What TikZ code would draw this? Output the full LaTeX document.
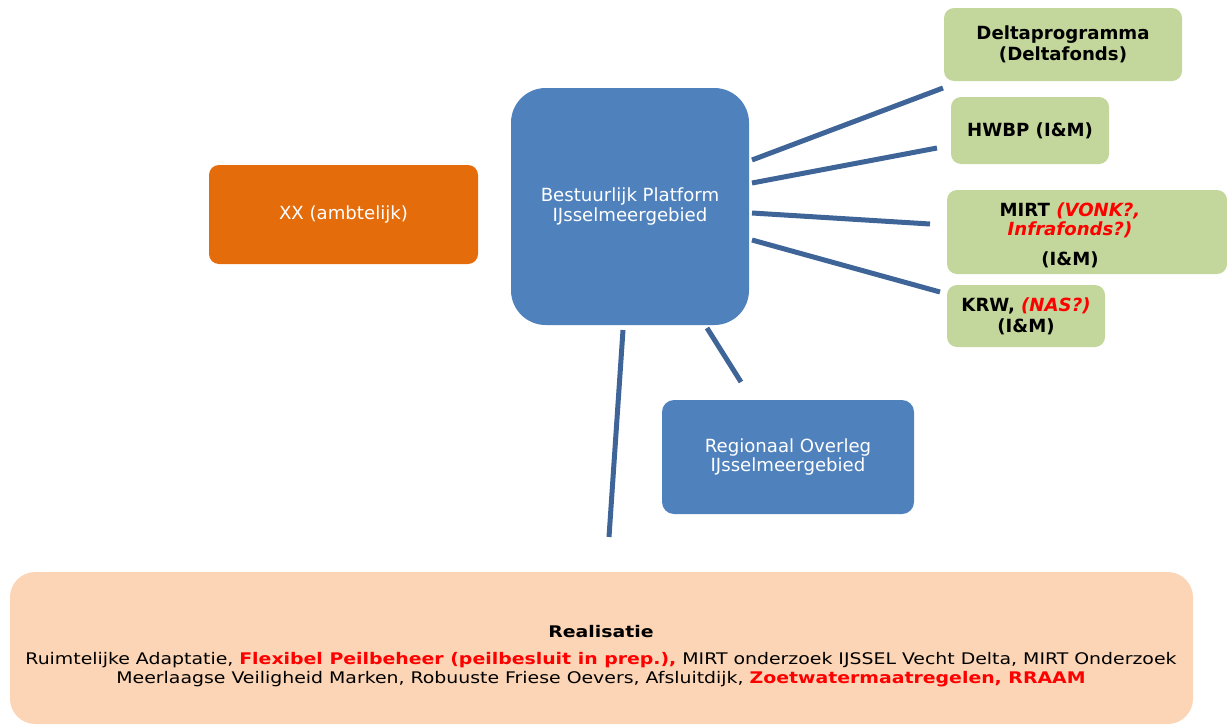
\documentclass[tikz,border=0pt]{standalone}
\usepackage{fontspec}
\setmainfont{DejaVu Sans}
\newfontfamily\realfont[FakeStretch=1.18]{DejaVu Sans}
\usetikzlibrary{positioning}

\definecolor{platblue}{HTML}{4F81BD}
\definecolor{ambtorange}{HTML}{E46C0A}
\definecolor{fondsgreen}{HTML}{C3D69B}
\definecolor{realpeach}{HTML}{FBD5B5}
\definecolor{linkblue}{HTML}{3F6598}
\definecolor{vraagred}{HTML}{FF0000}

\newcommand{\vraag}[1]{\textcolor{vraagred}{\textit{#1}}}
\newcommand{\nadruk}[1]{\textcolor{vraagred}{\textbf{#1}}}

\tikzset{
  box/.style={inner sep=0pt, align=center, font=\fontsize{13.6}{14.8}\selectfont},
  bluebox/.style={box, fill=platblue, text=white},
  orangebox/.style={box, fill=ambtorange, text=white, rounded corners=7.5pt},
  greenbox/.style={box, fill=fondsgreen, rounded corners=7.5pt,
    font=\fontsize{13.6}{15.6}\selectfont\bfseries},
  peachbox/.style={box, fill=realpeach, rounded corners=19pt},
  link/.style={draw=linkblue, line width=3.75pt}
}

\begin{document}
\begin{tikzpicture}[x=0.75pt, y=-0.75pt]
    \useasboundingbox (0,0) rectangle (1227,725);

    % bestuurlijk en ambtelijk
    \node[orangebox, minimum width=201.75pt, minimum height=74.25pt] (xx) at (343.5,214.5) {XX (ambtelijk)};
    \node[bluebox, rounded corners=26pt, minimum width=178.5pt, minimum height=177.75pt] (bp) at (630,206.5) {Bestuurlijk Platform\\IJsselmeergebied};
    \node[bluebox, rounded corners=9pt, minimum width=189pt, minimum height=85.5pt] (ro) at (788,457) {Regionaal Overleg\\IJsselmeergebied};

    % fondsen
    \node[greenbox, minimum width=178.5pt, minimum height=54.75pt] (dp) at (1063,44.5) {Deltaprogramma\\(Deltafonds)};
    \node[greenbox, minimum width=118.5pt, minimum height=50.25pt] (hw) at (1030,130.5) {HWBP (I\&M)};
    \node[greenbox, minimum width=210pt, minimum height=63pt] (mi) at (1087,232) {};
    \node[box, font=\fontsize{13.6}{14.6}\selectfont\bfseries] (mitxt) at (1070,235) {MIRT \vraag{(VONK?,}\\\vraag{Infrafonds?)}\\[7.5pt](I\&M)};
    \node[greenbox, minimum width=118.5pt, minimum height=46.5pt] (kr) at (1026,316) {KRW, \vraag{(NAS?)}\\(I\&M)};

    % realisatie
    \node[peachbox, minimum width=887.25pt, minimum height=114pt] (re) at (601.5,648) {};
    \node[box, font=\realfont\fontsize{12}{14.3}\selectfont] (retxt) at (601,656) {\textbf{Realisatie}\\[6pt]
      Ruimtelijke Adaptatie, \nadruk{Flexibel Peilbeheer (peilbesluit in prep.),} MIRT onderzoek IJSSEL Vecht Delta, MIRT Onderzoek\\
      Meerlaagse Veiligheid Marken, Robuuste Friese Oevers, Afsluitdijk, \nadruk{Zoetwatermaatregelen, RRAAM}};

    % verbindingen
    \coordinate (bp-dp) at (752,160);  \coordinate (dp-in) at (943,88);
    \coordinate (bp-hw) at (752,183);  \coordinate (hw-in) at (937,148);
    \coordinate (bp-mi) at (752,213);  \coordinate (mi-in) at (930,224);
    \coordinate (bp-kr) at (752,240);  \coordinate (kr-in) at (940,292);
    \coordinate (bp-ro) at (707,328);  \coordinate (ro-in) at (741,382);
    \coordinate (bp-re) at (623,330);  \coordinate (re-in) at (609,537);
    \draw[link] (bp-dp) -- (dp-in);
    \draw[link] (bp-hw) -- (hw-in);
    \draw[link] (bp-mi) -- (mi-in);
    \draw[link] (bp-kr) -- (kr-in);
    \draw[link] (bp-ro) -- (ro-in);
    \draw[link] (bp-re) -- (re-in);
\end{tikzpicture}
\end{document}
